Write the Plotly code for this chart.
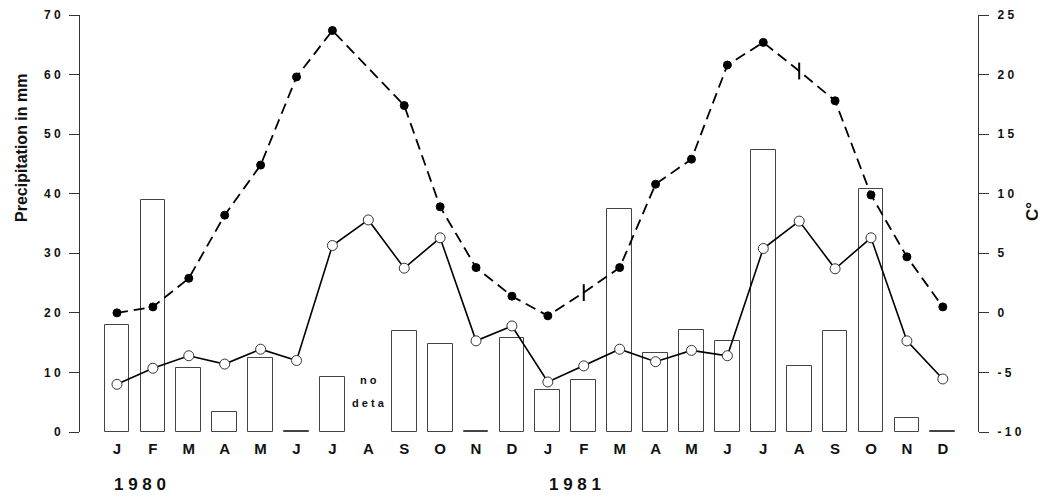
import plotly.graph_objects as go

months = ["J", "F", "M", "A", "M", "J", "J", "A", "S", "O", "N", "D",
          "J", "F", "M", "A", "M", "J", "J", "A", "S", "O", "N", "D"]
x_idx = list(range(24))

# Precipitation in mm (None = no data)
precip = [18.0, 39.0, 10.7, 3.4, 12.5, 0.1, 9.2, None, 17.0, 14.7, 0.1, 15.7,
          7.1, 8.7, 37.4, 13.3, 17.1, 15.3, 47.4, 11.1, 16.9, 40.8, 2.4, 0.2]

# Temperature, dashed line with filled dots (deg C)
temp_dashed = [0.0, 0.5, 2.9, 8.2, 12.4, 19.8, 23.7, None, 17.4, 8.9, 3.8, 1.4,
               -0.25, 1.7, 3.8, 10.8, 12.9, 20.8, 22.7, 20.3, 17.8, 9.9, 4.7, 0.5]
# points marked with a bar instead of a dot (estimated values)
dashed_estimated = [False] * 13 + [True] + [False] * 5 + [True] + [False] * 4

# Temperature, solid line with open circles (deg C)
temp_solid = [-6.0, -4.65, -3.6, -4.3, -3.05, -4.0, 5.65, 7.8, 3.75, 6.3, -2.35, -1.1,
              -5.8, -4.45, -3.05, -4.1, -3.15, -3.6, 5.4, 7.7, 3.7, 6.3, -2.35, -5.55]

left_ticks = [0, 10, 20, 30, 40, 50, 60, 70]
left_ticktext = ["0", "1 0", "2 0", "3 0", "4 0", "5 0", "6 0", "7 0"]
right_ticks = [-10, -5, 0, 5, 10, 15, 20, 25]
right_ticktext = ["- 1 0", "- 5", "0", "5", "1 0", "1 5", "2 0", "2 5"]

FONT = "Liberation Sans, Arial, Helvetica, sans-serif"
INK = "#111111"

fig = go.Figure()

fig.add_trace(go.Bar(
    x=x_idx, y=precip, width=0.69,
    marker=dict(color="white", line=dict(color="#444444", width=1)),
    yaxis="y", showlegend=False, hoverinfo="skip",
))

fig.add_trace(go.Scatter(
    x=x_idx, y=temp_dashed, yaxis="y2", mode="lines+markers", connectgaps=True,
    line=dict(color="black", width=1.8, dash="11px,6px"),
    marker=dict(
        symbol=["line-ns" if e else "circle" for e in dashed_estimated],
        size=[12 if e else 8 for e in dashed_estimated],
        color="black", opacity=1,
        line=dict(color="black", width=[2 if e else 1 for e in dashed_estimated]),
    ),
    showlegend=False,
))

fig.add_trace(go.Scatter(
    x=x_idx, y=temp_solid, yaxis="y2", mode="lines+markers",
    line=dict(color="black", width=1.6),
    marker=dict(symbol="circle", size=10, color="white", line=dict(color="#333333", width=1)),
    showlegend=False,
))

fig.update_layout(
    width=1046, height=497, autosize=False,
    margin=dict(l=72, r=76, t=7, b=73, autoexpand=False),
    plot_bgcolor="white", paper_bgcolor="white",
    font=dict(family=FONT, color=INK),
    bargap=0,
    xaxis=dict(
        range=[-1.03, 23.98], tickvals=x_idx, ticktext=months,
        showline=False, showgrid=False, zeroline=False, ticks="",
        tickfont=dict(size=15, weight="bold", color=INK), ticklabelstandoff=6,
        automargin=False,
    ),
    yaxis=dict(
        range=[0, 70], tickvals=left_ticks, ticktext=left_ticktext,
        showline=True, linecolor="#333333", linewidth=1,
        ticks="outside", ticklen=10, tickcolor="#333333", tickwidth=1,
        showgrid=False, zeroline=False, automargin=False,
        tickfont=dict(size=12, weight="bold", color=INK), ticklabelstandoff=6,
    ),
    yaxis2=dict(
        range=[-10, 25], tickvals=right_ticks, ticktext=right_ticktext,
        overlaying="y", side="right", anchor="x",
        showline=True, linecolor="#333333", linewidth=1,
        ticks="outside", ticklen=10, tickcolor="#333333", tickwidth=1,
        showgrid=False, zeroline=False, automargin=False,
        tickfont=dict(size=12, weight="bold", color=INK), ticklabelstandoff=6,
    ),
)

# plot area: 898 x 417 px
annotations = [
    dict(text="Precipitation in mm", xref="paper", yref="paper",
         x=-59 / 898, y=(432 - 148) / 417, xanchor="center", yanchor="middle",
         textangle=-90, showarrow=False, font=dict(size=16, weight="bold", color=INK)),
    dict(text="C°", xref="paper", yref="paper",
         x=(1033 - 80) / 898, y=(432 - 212) / 417, xanchor="center", yanchor="middle",
         textangle=-90, showarrow=False, font=dict(size=17, weight="bold", color=INK)),
    dict(text="1 9 8 0", xref="x", yref="paper", x=0.64, y=(432 - 484) / 417,
         xanchor="center", yanchor="middle",
         showarrow=False, font=dict(size=17, weight="bold", color=INK)),
    dict(text="1 9 8 1", xref="x", yref="paper", x=12.76, y=(432 - 484) / 417,
         xanchor="center", yanchor="middle",
         showarrow=False, font=dict(size=17, weight="bold", color=INK)),
    dict(text="n o", xref="x", yref="y", x=7, y=8.7, xanchor="center", yanchor="middle",
         showarrow=False, font=dict(size=11, weight="bold", color=INK)),
    dict(text="d e t a", xref="x", yref="y", x=7, y=4.9, xanchor="center", yanchor="middle",
         showarrow=False, font=dict(size=11, weight="bold", color=INK)),
]
fig.update_layout(annotations=annotations)

fig.write_html("out.html")
